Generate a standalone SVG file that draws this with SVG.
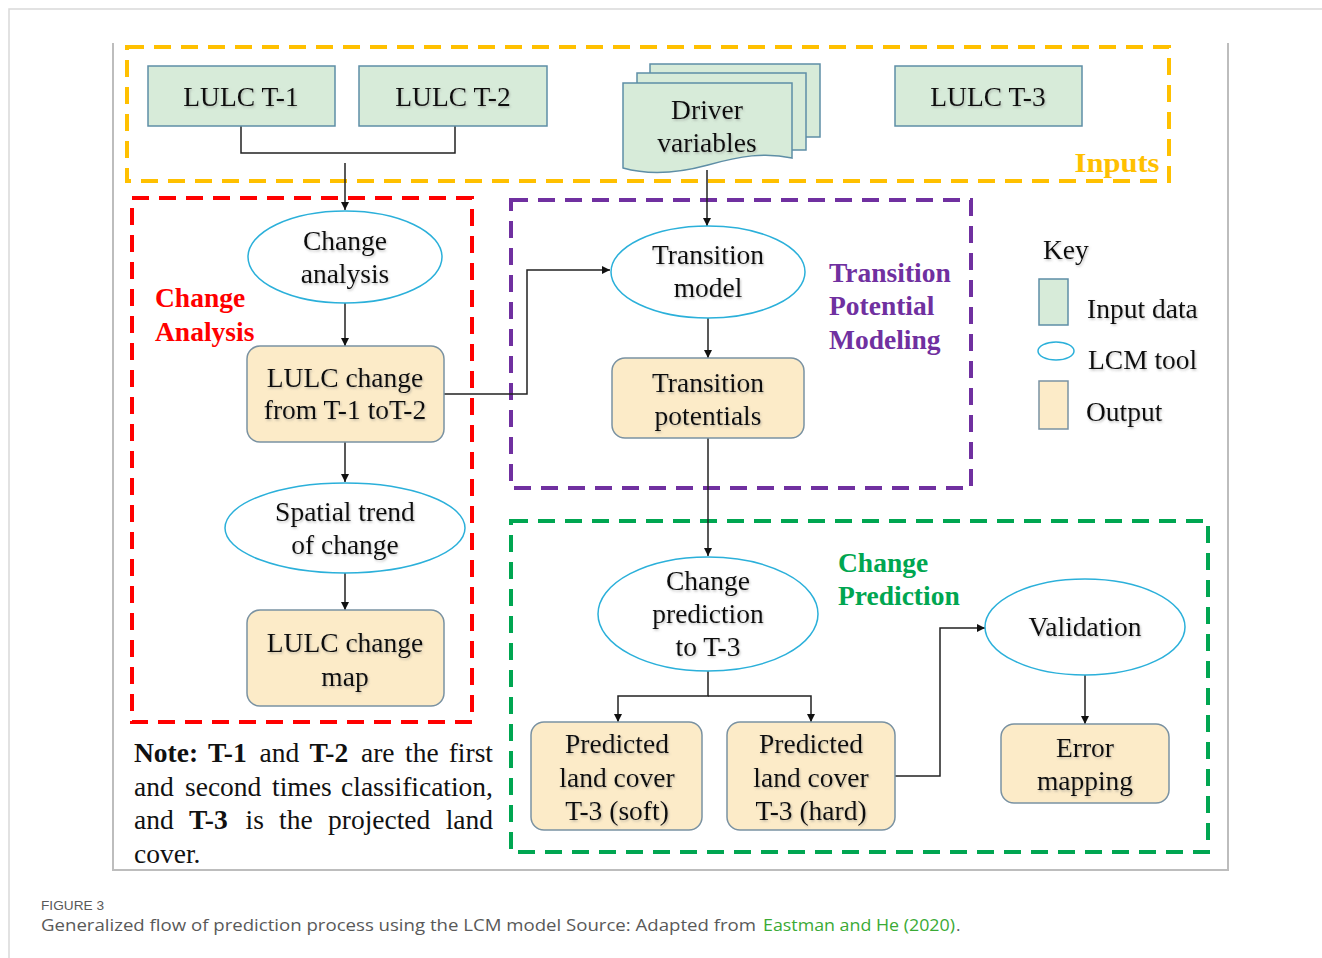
<svg xmlns="http://www.w3.org/2000/svg" width="1322" height="958" viewBox="0 0 1322 958">
<defs>
<style>
.card{fill:#fff;stroke:#d9d9d9;stroke-width:1.5}
.frame{fill:none;stroke:#bdbdbd;stroke-width:2}
.grp{fill:none;stroke-width:4;stroke-dasharray:17 10}
.inp{fill:#d7ebd9;stroke:#5e8ea6;stroke-width:1.5}
.out{fill:#fcebc8;stroke:#7a92a2;stroke-width:1.5}
.tool{fill:#fff;stroke:#2bb0da;stroke-width:1.5}
.t{font-family:"Liberation Serif","Times New Roman",serif;font-size:27.5px;fill:#111;text-anchor:middle}
.tl{font-family:"Liberation Serif","Times New Roman",serif;font-size:27.5px;fill:#111}
.h{font-family:"Liberation Serif","Times New Roman",serif;font-size:27.5px;font-weight:bold}
.con{fill:none;stroke:#222;stroke-width:1.5}
.cap{font-family:"Open Sans","Liberation Sans",sans-serif;fill:#595959}
</style>
<marker id="ah" viewBox="0 0 10 10" refX="10" refY="5" markerWidth="8" markerHeight="8" markerUnits="userSpaceOnUse" orient="auto">
<path d="M0,0 L10,5 L0,10 Z" fill="#111"/>
</marker>
<filter id="sh" x="-10%" y="-20%" width="120%" height="140%">
<feDropShadow dx="1" dy="1.5" stdDeviation="0.8" flood-color="#777" flood-opacity="0.45"/>
</filter>
</defs>

<rect x="9" y="9" width="1330" height="970" class="card"/>
<path d="M113,43 V870 H1228 V43" class="frame"/>

<g id="group-inputs">
<rect x="127" y="47" width="1042" height="134" class="grp" stroke="#ffc000"/>
<text x="1117" y="172" class="h" fill="#ffc000" text-anchor="middle" font-size="30" textLength="85" lengthAdjust="spacingAndGlyphs">Inputs</text>
</g>
<g id="group-change-analysis">
<rect x="132" y="198" width="340" height="524" class="grp" stroke="#ff0000"/>
<text class="h" fill="#ff0000"><tspan x="155" y="307">Change</tspan><tspan x="155" y="341">Analysis</tspan></text>
</g>
<g id="group-transition">
<rect x="511" y="200" width="460" height="288" class="grp" stroke="#7030a0"/>
<text class="h" fill="#7030a0"><tspan x="829" y="282">Transition</tspan><tspan x="829" y="315">Potential</tspan><tspan x="829" y="349">Modeling</tspan></text>
</g>
<g id="group-prediction">
<rect x="511" y="521" width="697" height="331" class="grp" stroke="#00a651"/>
<text class="h" fill="#00a651"><tspan x="838" y="572">Change</tspan><tspan x="838" y="605">Prediction</tspan></text>
</g>

<g id="connectors">
<path d="M241,126 V153 H455 V126" class="con"/>
<path d="M345,163 V210" class="con" marker-end="url(#ah)"/>
<path d="M345,303 V346" class="con" marker-end="url(#ah)"/>
<path d="M345,442 V482" class="con" marker-end="url(#ah)"/>
<path d="M345,573 V610" class="con" marker-end="url(#ah)"/>
<path d="M444,394 H527 V270 H610" class="con" marker-end="url(#ah)"/>
<path d="M707,170 V226" class="con" marker-end="url(#ah)"/>
<path d="M708,318 V358" class="con" marker-end="url(#ah)"/>
<path d="M708,438 V556" class="con" marker-end="url(#ah)"/>
<path d="M708,671 V696 H618 V722" class="con" marker-end="url(#ah)"/>
<path d="M708,696 H811 V722" class="con" marker-end="url(#ah)"/>
<path d="M895,776 H940 V628 H985" class="con" marker-end="url(#ah)"/>
<path d="M1085,675 V724" class="con" marker-end="url(#ah)"/>
</g>

<g id="node-lulc-t1">
<rect x="148" y="66" width="187" height="60" class="inp"/>
<text x="241" y="106" class="t" filter="url(#sh)">LULC T-1</text>
</g>
<g id="node-lulc-t2">
<rect x="359" y="66" width="188" height="60" class="inp"/>
<text x="453" y="106" class="t" filter="url(#sh)">LULC T-2</text>
</g>
<g id="node-driver">
<rect x="650" y="64" width="170" height="73" class="inp"/>
<rect x="637" y="73" width="169" height="77" class="inp"/>
<path d="M623,83 H792 V158 C765,152 740,156 708,165 C675,174 648,175 623,168 Z" class="inp"/>
<text class="t" filter="url(#sh)"><tspan x="707" y="119">Driver</tspan><tspan x="707" y="152">variables</tspan></text>
</g>
<g id="node-lulc-t3">
<rect x="895" y="66" width="187" height="60" class="inp"/>
<text x="988" y="106" class="t" filter="url(#sh)">LULC T-3</text>
</g>

<g id="node-change-analysis">
<ellipse cx="345" cy="257" rx="97" ry="46" class="tool"/>
<text class="t" filter="url(#sh)"><tspan x="345" y="250">Change</tspan><tspan x="345" y="283">analysis</tspan></text>
</g>
<g id="node-lulc-change">
<rect x="247" y="346" width="197" height="96" rx="13" class="out"/>
<text class="t" filter="url(#sh)"><tspan x="345" y="387">LULC change</tspan><tspan x="345" y="419">from T-1 toT-2</tspan></text>
</g>
<g id="node-spatial-trend">
<ellipse cx="345" cy="528" rx="120" ry="45" class="tool"/>
<text class="t" filter="url(#sh)"><tspan x="345" y="521">Spatial trend</tspan><tspan x="345" y="554">of change</tspan></text>
</g>
<g id="node-change-map">
<rect x="247" y="610" width="197" height="96" rx="13" class="out"/>
<text class="t" filter="url(#sh)"><tspan x="345" y="652">LULC change</tspan><tspan x="345" y="686">map</tspan></text>
</g>

<g id="node-transition-model">
<ellipse cx="708" cy="272" rx="97" ry="46" class="tool"/>
<text class="t" filter="url(#sh)"><tspan x="708" y="264">Transition</tspan><tspan x="708" y="297">model</tspan></text>
</g>
<g id="node-transition-potentials">
<rect x="612" y="358" width="192" height="80" rx="13" class="out"/>
<text class="t" filter="url(#sh)"><tspan x="708" y="392">Transition</tspan><tspan x="708" y="425">potentials</tspan></text>
</g>

<g id="node-change-prediction">
<ellipse cx="708" cy="614" rx="110" ry="57" class="tool"/>
<text class="t" filter="url(#sh)"><tspan x="708" y="590">Change</tspan><tspan x="708" y="623">prediction</tspan><tspan x="708" y="656">to T-3</tspan></text>
</g>
<g id="node-soft">
<rect x="531" y="722" width="171" height="108" rx="13" class="out"/>
<text class="t" filter="url(#sh)"><tspan x="617" y="753">Predicted</tspan><tspan x="617" y="787">land cover</tspan><tspan x="617" y="820">T-3 (soft)</tspan></text>
</g>
<g id="node-hard">
<rect x="727" y="722" width="168" height="108" rx="13" class="out"/>
<text class="t" filter="url(#sh)"><tspan x="811" y="753">Predicted</tspan><tspan x="811" y="787">land cover</tspan><tspan x="811" y="820">T-3 (hard)</tspan></text>
</g>
<g id="node-validation">
<ellipse cx="1085" cy="627" rx="100" ry="48" class="tool"/>
<text x="1085" y="636" class="t" filter="url(#sh)">Validation</text>
</g>
<g id="node-error-mapping">
<rect x="1001" y="724" width="168" height="79" rx="13" class="out"/>
<text class="t" filter="url(#sh)"><tspan x="1085" y="757">Error</tspan><tspan x="1085" y="790">mapping</tspan></text>
</g>

<g id="key">
<text x="1043" y="259" class="tl" filter="url(#sh)">Key</text>
<rect x="1039" y="279" width="29" height="46" class="inp"/>
<text x="1087" y="318" class="tl" filter="url(#sh)">Input data</text>
<ellipse cx="1056" cy="351" rx="18" ry="9" class="tool"/>
<text x="1088" y="369" class="tl" filter="url(#sh)">LCM tool</text>
<rect x="1039" y="381" width="29" height="48" class="out"/>
<text x="1086" y="421" class="tl" filter="url(#sh)">Output</text>
</g>

<g id="note" class="tl">
<text y="762"><tspan x="134" font-weight="bold">Note:</tspan><tspan x="208" font-weight="bold">T-1</tspan><tspan x="259.5">and</tspan><tspan x="309.5" font-weight="bold">T-2</tspan><tspan x="361">are</tspan><tspan x="405">the</tspan><tspan x="493" text-anchor="end">first</tspan></text>
<text y="796"><tspan x="134">and</tspan><tspan x="185">second</tspan><tspan x="272">times</tspan><tspan x="493" text-anchor="end">classification,</tspan></text>
<text y="829"><tspan x="134">and</tspan><tspan x="189" font-weight="bold">T-3</tspan><tspan x="245.5">is</tspan><tspan x="279">the</tspan><tspan x="328">projected</tspan><tspan x="493" text-anchor="end">land</tspan></text>
<text y="863"><tspan x="134">cover.</tspan></text>
</g>

<g id="caption">
<text x="41" y="909.5" font-family="Liberation Sans, Arial, sans-serif" fill="#595959" font-size="13.5" textLength="63" lengthAdjust="spacingAndGlyphs">FIGURE 3</text>
<text x="41" y="931" class="cap" font-size="17" textLength="715" lengthAdjust="spacingAndGlyphs">Generalized flow of prediction process using the LCM model Source: Adapted from</text>
<text x="763" y="931" class="cap" font-size="17" style="fill:#3aaa35" textLength="192" lengthAdjust="spacingAndGlyphs">Eastman and He (2020)</text>
<text x="956" y="931" class="cap" font-size="17">.</text>
</g>
</svg>
